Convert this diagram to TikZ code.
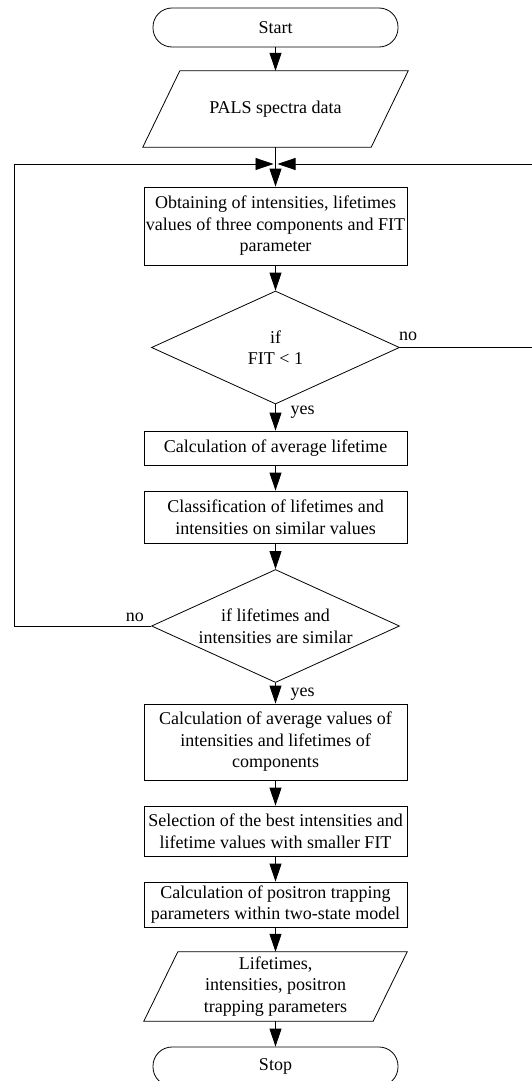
\documentclass[tikz,border=0pt]{standalone}
\usepackage{fontspec}
\setmainfont{Liberation Serif}
\usetikzlibrary{arrows.meta}
\usetikzlibrary{shapes.geometric}
\tikzset{every node/.style = {font=\fontsize{18}{21.5}\selectfont, align=center},
         base/.style = {draw, line width=0.8pt, inner sep=1pt},
         process/.style = {base, rectangle, minimum width=263pt},
         terminal/.style = {base, rectangle, rounded corners=19pt,
                            minimum width=245pt, minimum height=39pt},
         decision/.style = {base, diamond, aspect=2.2,
                            minimum width=248pt, minimum height=113pt},
         io/.style = {rectangle, inner sep=1pt},
         slant/.style = {line width=0.8pt, line join=miter},
         arr/.style = {line width=0.8pt, -{Triangle[length=18pt, width=12pt]}},
         lbl/.style = {inner sep=1pt}}

\begin{document}
\begin{tikzpicture}[x=1pt, y=-1pt]
  \useasboundingbox (0,0) rectangle (531,1081);
  % main column
  \node [terminal] (start) at (275.5, 27.5) {Start};
  \node [io, minimum width=265pt, minimum height=76pt] (data) at (275.5, 109) {PALS spectra data};
  \draw [slant] ([xshift=37pt]data.north west) -- (data.north east)
        -- ([xshift=-37pt]data.south east) -- (data.south west) -- cycle;
  \node [process, minimum height=78pt] (obtain) at (275.5, 226)
        {Obtaining of intensities, lifetimes\\values of three components and FIT\\parameter};
  \node [decision] (fit) at (275.5, 347.5) {if\\FIT < 1};
  \node [process, minimum height=34pt] (avg) at (275.5, 448) {Calculation of average lifetime};
  \node [process, minimum height=52pt] (classify) at (275.5, 517)
        {Classification of lifetimes and\\intensities on similar values};
  \node [decision] (similar) at (275.5, 626) {if lifetimes and\\intensities are similar};
  \node [process, minimum height=76pt] (avgval) at (275.5, 742)
        {Calculation of average values of\\intensities and lifetimes of\\components};
  \node [process, minimum height=50pt] (select) at (275.5, 831)
        {Selection of the best intensities and\\lifetime values with smaller FIT};
  \node [process, minimum height=45pt] (trap) at (275.5, 904.5)
        {Calculation of positron trapping\\parameters within two-state model};
  \node [io, minimum width=263pt, minimum height=69pt] (result) at (275.5, 986.5)
        {Lifetimes,\\intensities, positron\\trapping parameters};
  \draw [slant] ([xshift=34pt]result.north west) -- (result.north east)
        -- ([xshift=-34pt]result.south east) -- (result.south west) -- cycle;
  \node [terminal] (stop) at (275.5, 1066.5) {Stop};
  \coordinate (merge) at (275.5, 164);

  % connectors
  \draw [arr] (start) -- (data);
  \draw [arr] (data) -- (obtain);
  \draw [arr] (obtain) -- (fit);
  \draw [arr] (fit) -- (avg);
  \draw [arr] (avg) -- (classify);
  \draw [arr] (classify) -- (similar);
  \draw [arr] (similar) -- (avgval);
  \draw [arr] (avgval) -- (select);
  \draw [arr] (select) -- (trap);
  \draw [arr] (trap) -- (result);
  \draw [arr] (result) -- (stop);
  \draw [arr, shorten >=2pt] (fit.east) -- (533, 347.5) |- (merge);
  \draw [arr, shorten >=2pt] (similar.west) -- (14, 626) |- (merge);

  % labels
  \node [lbl, anchor=south west] (no1) at ([xshift=-2pt, yshift=6pt]fit.east) {no};
  \node [lbl, anchor=north west] (yes1) at ([xshift=14pt]fit.south) {yes};
  \node [lbl, anchor=south east] (no2) at ([xshift=-6pt, yshift=3pt]similar.west) {no};
  \node [lbl, anchor=north west] (yes2) at ([xshift=14pt, yshift=-4pt]similar.south) {yes};
\end{tikzpicture}
\end{document}
